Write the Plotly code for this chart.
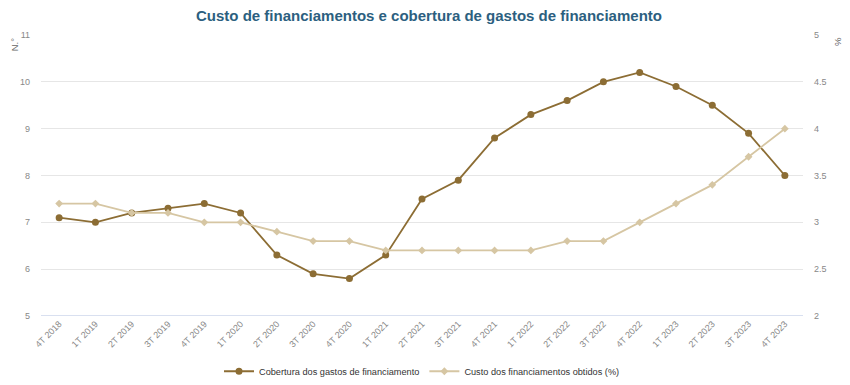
import plotly.graph_objects as go

categories = ["4T 2018", "1T 2019", "2T 2019", "3T 2019", "4T 2019", "1T 2020", "2T 2020",
              "3T 2020", "4T 2020", "1T 2021", "2T 2021", "3T 2021", "4T 2021", "1T 2022",
              "2T 2022", "3T 2022", "4T 2022", "1T 2023", "2T 2023", "3T 2023", "4T 2023"]
cobertura = [7.1, 7.0, 7.2, 7.3, 7.4, 7.2, 6.3, 5.9, 5.8, 6.3, 7.5, 7.9, 8.8, 9.3, 9.6,
             10.0, 10.2, 9.9, 9.5, 8.9, 8.0]
custo = [3.2, 3.2, 3.1, 3.1, 3.0, 3.0, 2.9, 2.8, 2.8, 2.7, 2.7, 2.7, 2.7, 2.7, 2.8,
         2.8, 3.0, 3.2, 3.4, 3.7, 4.0]
left_ticks = [5, 6, 7, 8, 9, 10, 11]
right_ticks = [2, 2.5, 3, 3.5, 4, 4.5, 5]

dark = "#8c6d34"
light = "#d6c6a3"

fig = go.Figure()
fig.add_trace(go.Scatter(
    x=categories, y=cobertura, name="Cobertura dos gastos de financiamento",
    mode="lines+markers", line=dict(color=dark, width=1.8),
    marker=dict(symbol="circle", size=7, color=dark), yaxis="y"))
fig.add_trace(go.Scatter(
    x=categories, y=custo, name="Custo dos financiamentos obtidos (%)",
    mode="lines+markers", line=dict(color=light, width=1.8),
    marker=dict(symbol="diamond", size=6, color=light), yaxis="y2"))

fig.update_layout(
    width=842, height=377,
    margin=dict(l=33, r=47, t=27, b=69, autoexpand=False),
    paper_bgcolor="white", plot_bgcolor="white",
    font=dict(family="Liberation Sans, Arial, sans-serif", size=9, color="#888888"),
    title=dict(text="<b>Custo de financiamentos e cobertura de gastos de financiamento</b>",
               x=0.5, xanchor="center", y=0.979, yanchor="middle",
               font=dict(size=15, color="#2c5f80")),
    showlegend=True,
    legend=dict(orientation="h", x=0.5, xanchor="center", y=-0.145, yanchor="top",
                font=dict(size=9.2, color="#333333"), itemwidth=30),
    xaxis=dict(type="category", tickangle=-45, showgrid=False, showline=False,
               ticks="", tickfont=dict(size=9, color="#888888"), automargin=False,
               range=[-0.5, len(categories) - 0.5], zeroline=False),
    yaxis=dict(range=[5, 11], tickvals=left_ticks, showgrid=True, gridcolor="#e6e6e6",
               gridwidth=1, zeroline=False, showline=False, ticks="", automargin=False,
               tickfont=dict(size=9, color="#888888"), ticklabelstandoff=10),
    yaxis2=dict(range=[2, 5], tickvals=right_ticks, overlaying="y", side="right",
                showgrid=False, zeroline=False, showline=False, ticks="", automargin=False,
                tickfont=dict(size=9, color="#888888"), ticklabelstandoff=10),
    shapes=[dict(type="line", xref="paper", yref="y", x0=0, x1=1, y0=5, y1=5,
                 line=dict(color="#ccd6eb", width=1.5), layer="below")],
    annotations=[
        dict(text="N.°", xref="paper", yref="paper", x=-0.035, y=1.0, xanchor="center",
             yanchor="top", textangle=-90, showarrow=False,
             font=dict(size=9.5, color="#666666")),
        dict(text="%", xref="paper", yref="paper", x=1.046, y=1.0, xanchor="center",
             yanchor="top", textangle=90, showarrow=False,
             font=dict(size=9.5, color="#666666")),
    ],
)

fig.write_html("out.html")
